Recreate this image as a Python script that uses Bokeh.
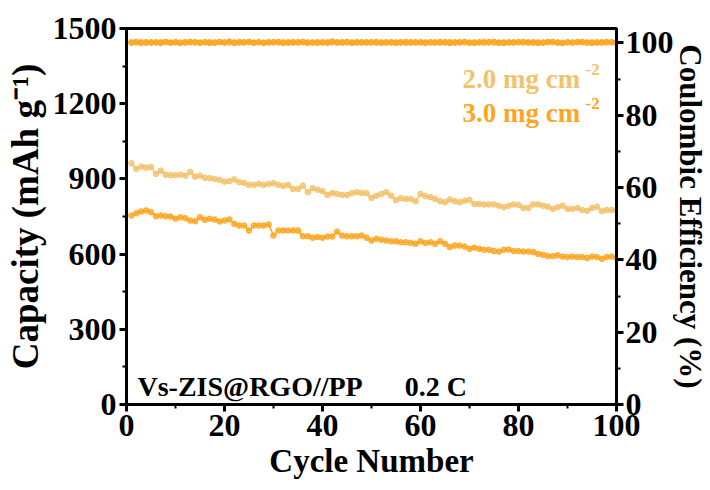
import math
from bokeh.plotting import figure
from bokeh.models import Range1d, LinearAxis, FixedTicker, Label, ColumnDataSource
from bokeh.embed import file_html
from bokeh.resources import INLINE

cycles = list(range(1, 101))

cap_2mg = [962, 940, 949, 945, 947, 920, 933, 917, 915, 915,
           917, 913, 928, 909, 913, 904, 903, 900, 896, 889,
           891, 898, 887, 884, 876, 877, 880, 876, 880, 883,
           876, 872, 876, 860, 860, 873, 847, 863, 857, 851,
           836, 844, 840, 836, 836, 843, 847, 844, 843, 824,
           833, 840, 847, 833, 816, 823, 820, 820, 811, 840,
           831, 827, 820, 811, 807, 818, 811, 807, 813, 816,
           800, 800, 798, 798, 798, 793, 787, 793, 798, 796,
           784, 784, 798, 798, 793, 789, 780, 787, 793, 780,
           780, 784, 776, 773, 784, 789, 771, 776, 776, 774]

cap_3mg = [754, 763, 770, 774, 767, 751, 754, 751, 750, 741,
           747, 743, 734, 731, 747, 737, 741, 738, 730, 734,
           738, 721, 714, 714, 694, 714, 714, 714, 718, 674,
           694, 694, 694, 694, 694, 671, 671, 665, 668, 665,
           670, 670, 690, 674, 671, 671, 671, 674, 665, 654,
           661, 657, 654, 651, 651, 647, 647, 645, 641, 651,
           644, 647, 641, 651, 641, 628, 634, 634, 630, 621,
           625, 621, 617, 617, 612, 610, 617, 618, 612, 612,
           610, 610, 608, 601, 597, 592, 592, 595, 590, 588,
           590, 588, 588, 584, 590, 588, 581, 588, 590, 585]

ce_2mg = [100.2, 100.1, 100.3, 100.0, 100.2, 100.1, 100.3, 100.2, 100.0, 100.2,
          100.1, 100.3, 100.2, 100.1, 100.0, 100.2, 100.3, 100.1, 100.2, 100.0,
          100.1, 100.2, 100.3, 100.1, 100.2, 100.0, 100.2, 100.1, 100.3, 100.2,
          100.1, 100.2, 100.0, 100.3, 100.1, 100.2, 100.2, 100.1, 100.0, 100.2,
          100.3, 100.1, 100.2, 100.0, 100.1, 100.2, 100.3, 100.1, 100.2, 100.1,
          100.0, 100.2, 100.1, 100.3, 100.2, 100.1, 100.0, 100.2, 100.1, 100.3,
          100.2, 100.1, 100.2, 100.0, 100.1, 100.3, 100.2, 100.1, 100.2, 100.0,
          100.2, 100.1, 100.3, 100.2, 100.1, 100.0, 100.2, 100.1, 100.2, 100.3,
          100.1, 100.2, 100.0, 100.2, 100.1, 100.3, 100.2, 100.1, 100.0, 100.2,
          100.1, 100.3, 100.2, 100.1, 100.2, 100.0, 100.2, 100.1, 100.2, 100.1]

ce_3mg = [100.1, 100.3, 100.0, 100.2, 100.1, 100.2, 100.0, 100.3, 100.1, 100.2,
          100.0, 100.1, 100.3, 100.2, 100.1, 100.2, 100.0, 100.1, 100.3, 100.2,
          100.4, 100.0, 100.1, 100.2, 100.3, 100.1, 100.2, 100.0, 100.1, 100.2,
          100.3, 100.0, 100.2, 100.1, 100.2, 100.3, 100.0, 100.1, 100.2, 100.1,
          100.0, 100.4, 100.1, 100.2, 100.3, 100.0, 100.1, 100.2, 100.1, 100.2,
          100.3, 100.0, 100.2, 100.1, 100.0, 100.2, 100.3, 100.1, 100.2, 100.1,
          100.0, 100.2, 100.1, 100.3, 100.2, 100.0, 100.1, 100.2, 100.3, 100.1,
          100.0, 100.2, 100.1, 100.2, 100.3, 100.1, 100.0, 100.2, 100.1, 100.2,
          100.3, 100.1, 100.2, 100.0, 100.1, 100.2, 100.3, 100.1, 100.0, 100.2,
          100.1, 100.2, 100.3, 100.1, 100.0, 100.2, 100.1, 100.3, 100.2, 100.1]

x_ticks = [0, 20, 40, 60, 80, 100]
cap_ticks = [0, 300, 600, 900, 1200, 1500]
ce_ticks = [0, 20, 40, 60, 80, 100]

c_light = "#F3C26A"
c_orange = "#FFA51F"
FONT = "Liberation Serif"

p = figure(width=710, height=490, output_backend="svg", toolbar_location=None,
           x_range=Range1d(0, 100), y_range=Range1d(0, 1500),
           min_border_left=126, min_border_right=83, min_border_top=28, min_border_bottom=86)
p.grid.visible = False
p.outline_line_color = "black"
p.outline_line_width = 3
p.extra_y_ranges = {"ce": Range1d(0, 104)}

src = ColumnDataSource(dict(x=cycles, c2=cap_2mg, c3=cap_3mg, e2=ce_2mg, e3=ce_3mg))

for col, color in (("c2", c_light), ("c3", c_orange)):
    p.line("x", col, source=src, line_color=color, line_width=1.5)
    p.scatter("x", col, source=src, size=5.5, fill_color=color, line_color=color, fill_alpha=0.75)
for col, color in (("e2", c_light), ("e3", c_orange)):
    p.line("x", col, source=src, line_color=color, line_width=1.5, y_range_name="ce")
    p.scatter("x", col, source=src, size=5.5, fill_color=color, line_color=color,
              fill_alpha=0.75, y_range_name="ce")

right = LinearAxis(y_range_name="ce")
p.add_layout(right, "right")

p.xaxis.ticker = FixedTicker(ticks=x_ticks, minor_ticks=list(range(0, 101, 10)))
p.yaxis[0].ticker = FixedTicker(ticks=cap_ticks, minor_ticks=list(range(0, 1501, 150)))
right.ticker = FixedTicker(ticks=ce_ticks, minor_ticks=list(range(0, 101, 10)))

p.xaxis.axis_label = "Cycle Number"
p.yaxis[0].axis_label = "Capacity (mAh g\u207b\u00b9)"
right.axis_label = "Coulombic Efficiency (%)"

for ax in p.xaxis + p.yaxis:
    ax.axis_line_width = 3
    ax.major_tick_line_width = 3
    ax.minor_tick_line_width = 2
    ax.major_tick_out = 7
    ax.major_tick_in = 0
    ax.minor_tick_out = 4
    ax.minor_tick_in = 0
    ax.major_label_text_font = FONT
    ax.major_label_text_font_style = "bold"
    ax.major_label_text_font_size = "32px"
    ax.major_label_text_color = "black"
    ax.axis_label_text_font = FONT
    ax.axis_label_text_font_style = "bold"
    ax.axis_label_text_font_size = "33px"
    ax.axis_label_text_color = "black"
    ax.major_label_standoff = 3
    ax.axis_label_standoff = 4

p.yaxis[0].axis_label_text_font_size = "37px"
right.major_label_standoff = 2
right.axis_label_standoff = -4
right.axis_label_text_font_size = "31px"

# legend texts (frame-relative screen units)
for txt, color, yb in (("2.0 mg cm", c_light, 326), ("3.0 mg cm", c_orange, 292)):
    lab = Label(x=336, y=yb, x_units="screen", y_units="screen", text=txt, text_baseline="alphabetic",
                text_font=FONT, text_font_style="bold", text_font_size="27px", text_color=color)
    p.add_layout(lab)
    lab2 = Label(x=459, y=yb + 9, x_units="screen", y_units="screen", text="-2",
                 text_baseline="alphabetic",
                 text_font=FONT, text_font_style="bold", text_font_size="17px", text_color=color)
    p.add_layout(lab2)

note = Label(x=11, y=18, x_units="screen", y_units="screen",
             text="Vs-ZIS@RGO//PP\u00a0\u00a0\u00a0\u00a0\u00a0\u00a00.2 C", text_baseline="alphabetic",
             text_font=FONT, text_font_style="bold", text_font_size="28px", text_color="black")
p.add_layout(note)

open("out.html", "w").write(file_html(p, INLINE))
